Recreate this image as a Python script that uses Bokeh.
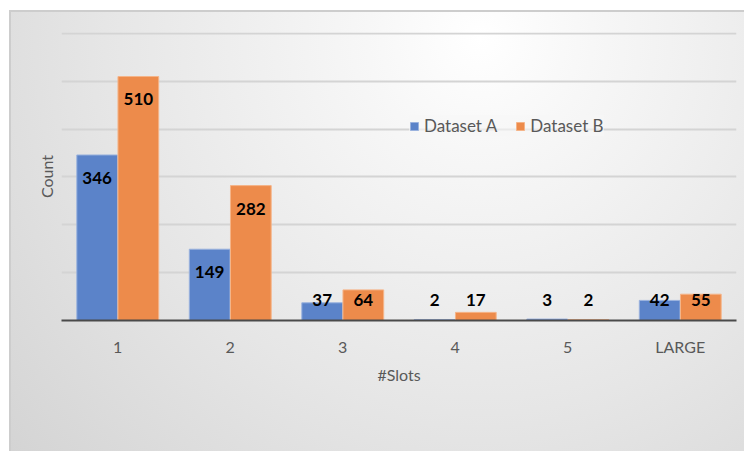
import numpy as np
from bokeh.plotting import figure
from bokeh.models import (ColumnDataSource, FactorRange, Range1d, SingleIntervalTicker,
                          FixedTicker, Legend, LegendItem)
from bokeh.transform import dodge
from bokeh.core.properties import value
from bokeh.embed import file_html
from bokeh.resources import INLINE

# ---- data ----
categories = ["1", "2", "3", "4", "5", "LARGE"]
dataset_a = [346, 149, 37, 2, 3, 42]
dataset_b = [510, 282, 64, 17, 2, 55]
series_names = ["Dataset A", "Dataset B"]
x_title = "#Slots"
y_title = "Count"

BLUE = "#5B83C9"
BLUE_EDGE = "#9ab2de"
ORANGE = "#ED8B4B"
ORANGE_EDGE = "#f5b488"
TXT = "#595959"
FONT = "Lato"

a = np.array(dataset_a)
b = np.array(dataset_b)
src = ColumnDataSource(dict(
    cat=categories, a=dataset_a, b=dataset_b,
    a_lab=[str(v) for v in dataset_a], b_lab=[str(v) for v in dataset_b],
    a_y=np.maximum(a - 48, 42), b_y=np.maximum(b - 48, 42),
))

p = figure(x_range=FactorRange(*categories, range_padding=0), y_range=Range1d(0, 602),
           width=744, height=451, output_backend="svg", toolbar_location=None,
           min_border_left=61, min_border_right=8, min_border_top=32, min_border_bottom=131)

p.background_fill_color = None
p.border_fill_color = None
p.outline_line_color = None
p.styles = {
    "background-color": "#ffffff",
    "background-image": ("radial-gradient(circle farthest-corner at 64% 6%, #ffffff 0%, #f7f7f7 18%, "
                         "#e6e6e6 60%, #d4d4d4 100%), linear-gradient(#cdcdcd, #cdcdcd)"),
    "background-position": "11px 12px, 9px 10px",
    "background-size": "calc(100% - 11px) calc(100% - 12px), calc(100% - 9px) calc(100% - 10px)",
    "background-repeat": "no-repeat, no-repeat",
}

off = 0.183
w = 0.362
ra = p.vbar(x=dodge("cat", -off, range=p.x_range), top="a", width=w, source=src,
            fill_color=BLUE, line_color=BLUE_EDGE, line_width=1)
rb = p.vbar(x=dodge("cat", off, range=p.x_range), top="b", width=w, source=src,
            fill_color=ORANGE, line_color=ORANGE_EDGE, line_width=1)

for xo, ycol, tcol in [(-off, "a_y", "a_lab"), (off, "b_y", "b_lab")]:
    p.text(x=dodge("cat", xo, range=p.x_range), y=ycol, text=tcol, source=src,
           text_align="center", text_baseline="middle", text_font=value(FONT),
           text_font_style="bold", text_font_size="17px", text_color="black")

# axes
p.xaxis.axis_label = x_title
p.xaxis.axis_label_text_font = FONT
p.xaxis.axis_label_text_font_style = "normal"
p.xaxis.axis_label_text_font_size = "16px"
p.xaxis.axis_label_text_color = TXT
p.xaxis.axis_label_standoff = 6
p.xaxis.major_label_text_font = FONT
p.xaxis.major_label_text_font_size = "16px"
p.xaxis.major_label_text_color = TXT
p.xaxis.major_label_standoff = 10
p.xaxis.major_tick_line_color = None
p.xaxis.minor_tick_line_color = None
p.xaxis.axis_line_color = "#4a4a4a"
p.xaxis.axis_line_width = 2

p.yaxis.ticker = FixedTicker(ticks=[])
p.yaxis.axis_label = y_title
p.yaxis.axis_label_text_font = FONT
p.yaxis.axis_label_text_font_style = "normal"
p.yaxis.axis_label_text_font_size = "16px"
p.yaxis.axis_label_text_color = TXT
p.yaxis.axis_label_standoff = 6
p.yaxis.major_label_standoff = 0
p.yaxis.axis_line_color = None
p.yaxis.major_tick_line_color = None
p.yaxis.minor_tick_line_color = None

p.xgrid.grid_line_color = None
p.ygrid.ticker = SingleIntervalTicker(interval=100)
p.ygrid.grid_line_color = "#d4d4d4"
p.ygrid.grid_line_width = 2

legend = Legend(items=[LegendItem(label=series_names[0], renderers=[ra]),
                       LegendItem(label=series_names[1], renderers=[rb])],
                orientation="horizontal", location=(348, 184),
                background_fill_color="#f7f7f7", background_fill_alpha=0.6,
                border_line_color=None, glyph_width=10, glyph_height=10,
                label_text_font=FONT, label_text_font_size="17px",
                label_text_color=TXT, spacing=18, padding=12, label_standoff=5,
                label_height=12)
p.add_layout(legend, "center")

open("out.html", "w").write(file_html(p, INLINE))
